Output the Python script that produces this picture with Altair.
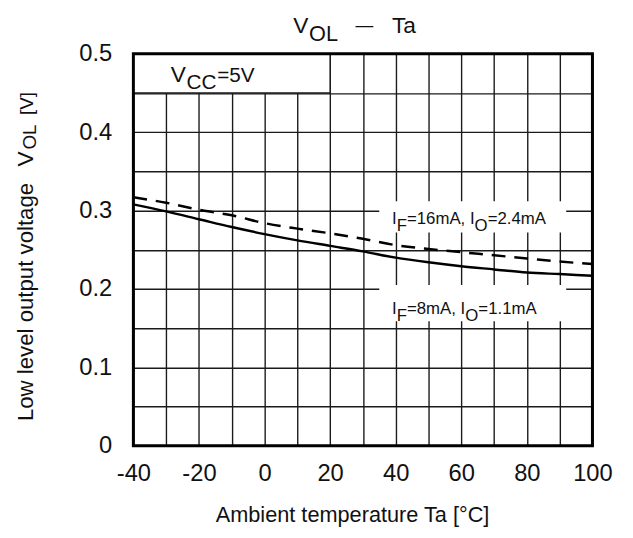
import altair as alt
import pandas as pd

FONT = "Liberation Sans"

# ---- data ----
ta = [-40, -30, -20, -10, 0, 10, 20, 30, 40, 50, 60, 70, 80, 90, 100]
vol_if8 = [0.308, 0.299, 0.289, 0.279, 0.270, 0.262, 0.255, 0.248, 0.240,
           0.234, 0.229, 0.225, 0.221, 0.219, 0.217]
vol_if16 = [0.317, 0.310, 0.301, 0.294, 0.284, 0.277, 0.271, 0.264, 0.256,
            0.251, 0.247, 0.243, 0.239, 0.235, 0.232]

x_ticks = [-40, -30, -20, -10, 0, 10, 20, 30, 40, 50, 60, 70, 80, 90, 100]
y_ticks = [0, 0.05, 0.1, 0.15, 0.2, 0.25, 0.3, 0.35, 0.4, 0.45, 0.5]
x_domain = [-40, 100]
y_domain = [0, 0.5]

df8 = pd.DataFrame({"ta": ta, "v": vol_if8})
df16 = pd.DataFrame({"ta": ta, "v": vol_if16})

X = alt.X("ta:Q", scale=alt.Scale(domain=x_domain, nice=False, zero=False),
          axis=alt.Axis(values=x_ticks,
                        labelExpr="datum.value % 20 == 0 ? replace(datum.label, '\u2212', '-') : ''",
                        title="Ambient temperature Ta [°C]",
                        titleFontSize=22, titleFont=FONT, titleFontWeight="normal",
                        titleColor="#111", titleX=221.5, titleY=70,
                        titleBaseline="middle", titleAlign="center",
                        labelFontSize=24, labelFont=FONT, labelColor="#111",
                        labelPadding=16, labelFlush=False, labelOverlap=False,
                        ticks=False, domain=False,
                        grid=True, gridColor="#1a1a1a", gridWidth=1.4, gridOpacity=1))
Y = alt.Y("v:Q", scale=alt.Scale(domain=y_domain, nice=False, zero=False),
          axis=alt.Axis(values=y_ticks,
                        labelExpr="round(datum.value*100) % 10 == 0 ? (datum.value == 0 ? '0' : format(datum.value, '.1f')) : ''",
                        title=None,
                        labelFontSize=24, labelFont=FONT, labelColor="#111",
                        labelPadding=22, labelFlush=False, labelOverlap=False,
                        ticks=False, domain=False,
                        grid=True, gridColor="#1a1a1a", gridWidth=1.4, gridOpacity=1))

# ---- white annotation boxes (data coordinates) ----
boxes = pd.DataFrame({
    "ta": [-40, 35, 35],
    "ta2": [20, 92, 92],
    "v": [0.45, 0.272, 0.159],
    "v2": [0.5, 0.312, 0.205],
    "kind": ["vcc", "lab", "lab"],
})
vcc_box = alt.Chart(boxes[boxes.kind == "vcc"]).mark_rect(
    fill="white", stroke="#1a1a1a", strokeWidth=1.4
).encode(x=X, x2="ta2:Q", y=Y, y2="v2:Q")
lab_boxes = alt.Chart(boxes[boxes.kind == "lab"]).mark_rect(
    fill="white", strokeWidth=0
).encode(x=X, x2="ta2:Q", y=Y, y2="v2:Q")

# ---- curves ----
line8 = alt.Chart(df8).mark_line(color="black", strokeWidth=2.5,
                                 interpolate="monotone").encode(x=X, y=Y)
line16 = alt.Chart(df16).mark_line(color="black", strokeWidth=2.5,
                                   strokeDash=[14, 9],
                                   interpolate="monotone").encode(x=X, y=Y)

# ---- in-plot labels: anchor (data coords) + pieces (text, dx, dy, size) ----
annotations = [
    ((-28.6, 0.4635), [("V", 0, 0, 23), ("CC", 16, 7, 21), ("=5V", 47, 0, 21)]),
    ((38.9, 0.2834), [("I", 0, 0, 17), ("F", 4.7, 7, 17), ("=16mA, I", 15.1, 0, 17),
                      ("O", 83.6, 7, 17), ("=2.4mA", 96.8, 0, 17)]),
    ((38.9, 0.1675), [("I", 0, 0, 17), ("F", 4.7, 7, 17), ("=8mA, I", 15.1, 0, 17),
                      ("O", 74.2, 7, 17), ("=1.1mA", 87.4, 0, 17)]),
]
text_layers = []
for (ax, ay), pieces in annotations:
    adf = pd.DataFrame({"ta": [ax], "v": [ay]})
    for txt, dx, dy, size in pieces:
        text_layers.append(
            alt.Chart(adf).mark_text(text=txt, align="left", baseline="alphabetic",
                                     dx=dx, dy=dy, fontSize=size, font=FONT,
                                     color="#111").encode(x=X, y=Y))

# ---- titles outside the plot (pixel positions relative to plot origin) ----
one = pd.DataFrame({"k": [0]})
title_pieces = [("V", 162, -21, 23), ("OL", 178, -13, 22),
                ("\u2014", 225, -23, 18), ("Ta", 262, -21, 23)]
for txt, px, py, size in title_pieces:
    text_layers.append(
        alt.Chart(one).mark_text(text=txt, align="left", baseline="alphabetic",
                                 fontSize=size, font=FONT, color="#111").encode(
            x=alt.value(px), y=alt.value(py)))

ytitle_pieces = [("Low level output voltage", 372, 0, 22.5),
                 ("V", 114, 0, 23), ("OL", 97, 3, 19), ("[V]", 62, 0, 19)]
for txt, py, dy, size in ytitle_pieces:
    text_layers.append(
        alt.Chart(one).mark_text(text=txt, align="left", baseline="alphabetic",
                                 angle=270, dy=dy, fontSize=size, font=FONT,
                                 color="#111").encode(
            x=alt.value(-102), y=alt.value(py)))

# ---- frame ----
frame = alt.Chart(pd.DataFrame({"ta": [x_domain[0]], "ta2": [x_domain[1]],
                                "v": [y_domain[0]], "v2": [y_domain[1]]})).mark_rect(
    filled=False, stroke="black", strokeWidth=3
).encode(x=X, x2="ta2:Q", y=Y, y2="v2:Q")

chart = alt.layer(line8, lab_boxes, vcc_box, line16, *text_layers, frame).properties(
    width=465, height=397,
    padding={"left": 127, "top": 43, "right": 33, "bottom": 90},
    autosize=alt.AutoSizeParams(type="none"),
    background="white",
).configure_view(stroke=None)

chart.save("out.html", embed_options={"renderer": "svg", "actions": False})
